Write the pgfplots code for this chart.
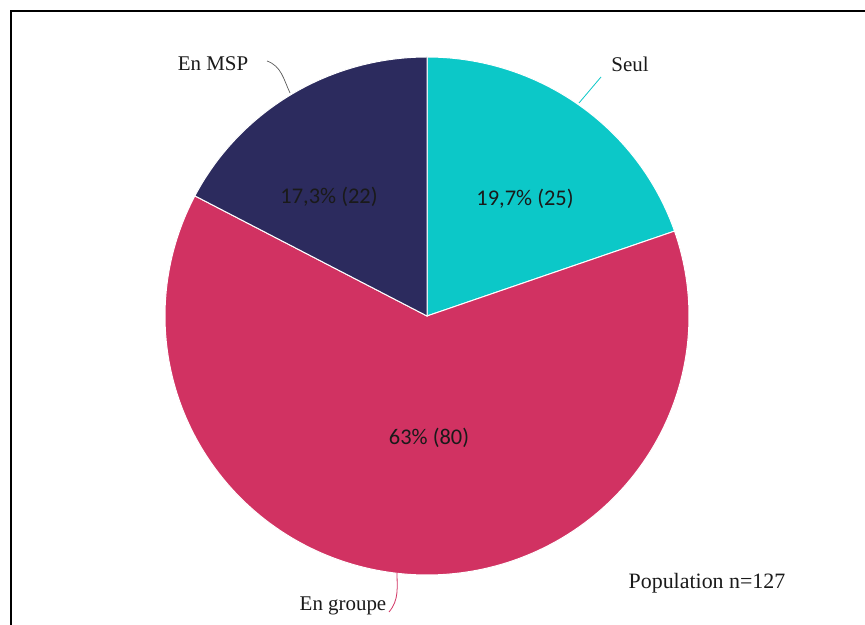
\documentclass[border=0pt]{standalone}
\usepackage{fontspec}
\setmainfont{Liberation Serif}
\newfontfamily\calib{Carlito}
\usepackage{pgfplots}
\usepackage{pgfplotstable}
\pgfplotsset{compat=1.18}
\definecolor{seul}{HTML}{0CC8C8}
\definecolor{groupe}{HTML}{D13262}
\definecolor{msp}{HTML}{2C2B5E}
\definecolor{txt}{HTML}{1A1A1A}
\pgfplotstableread{
label value
Seul 25
Groupe 80
MSP 22
}\piedata
\begin{document}
\begin{tikzpicture}
\pgfplotstablegetelem{0}{value}\of\piedata \let\vA\pgfplotsretval
\pgfplotstablegetelem{1}{value}\of\piedata \let\vB\pgfplotsretval
\pgfplotstablegetelem{2}{value}\of\piedata \let\vC\pgfplotsretval
\pgfmathsetmacro\tot{\vA+\vB+\vC}
\pgfmathsetmacro\fA{\vA/\tot}
\pgfmathsetmacro\fB{\vB/\tot}
\pgfmathsetmacro\aA{90-360*\fA}
\pgfmathsetmacro\aB{\aA-360*\fB}
\path[use as bounding box] (0,0) rectangle (865bp,625bp);
\begin{axis}[
  at={(0,0)}, anchor=south west,
  width=865bp, height=625bp, scale only axis,
  xmin=0, xmax=865, ymin=0, ymax=625,
  hide axis, clip=false,
]
\addplot[fill=seul, draw=white, line width=1pt, domain=\aA:90, samples=100, variable=\t]
  ({427+262*cos(\t)}, {309+259*sin(\t)}) -- (axis cs:427,309) -- cycle;
\addplot[fill=groupe, draw=white, line width=1pt, domain=\aB:\aA, samples=200, variable=\t]
  ({427+262*cos(\t)}, {309+259*sin(\t)}) -- (axis cs:427,309) -- cycle;
\addplot[fill=msp, draw=white, line width=1pt, domain=-270:\aB, samples=100, variable=\t]
  ({427+262*cos(\t)}, {309+259*sin(\t)}) -- (axis cs:427,309) -- cycle;

% leader lines
\draw[seul, line width=0.8pt] (axis cs:579,522) -- (axis cs:601,548);
\draw[black!65, line width=0.7pt] (axis cs:267,564) to[out=-20,in=115] (axis cs:290,532);
\draw[groupe, line width=0.8pt] (axis cs:397,53) to[out=-90,in=50] (axis cs:389,13);

% labels
\node[font=\fontsize{21}{25}\selectfont, text=txt] at (axis cs:630,561) {Seul};
\node[font=\fontsize{21}{25}\selectfont, text=txt] at (axis cs:213,561) {En MSP};
\node[font=\fontsize{21}{25}\selectfont, text=txt] at (axis cs:343,19) {En groupe};
\node[font=\fontsize{22}{26}\selectfont, text=txt] at (axis cs:707,42) {Population n=127};
\node[font=\calib\fontsize{22.5}{26}\selectfont, text=txt] at (axis cs:525,426) {19,7\% (25)};
\node[font=\calib\fontsize{22.5}{26}\selectfont, text=txt] at (axis cs:429,187) {63\% (80)};
\node[font=\calib\fontsize{22.5}{26}\selectfont, text=txt] at (axis cs:329,428) {17,3\% (22)};

% frame
\draw[black, line width=2bp] (axis cs:10.5,0) -- (axis cs:10.5,613.5) -- (axis cs:865,613.5);
\end{axis}
\end{tikzpicture}
\end{document}
